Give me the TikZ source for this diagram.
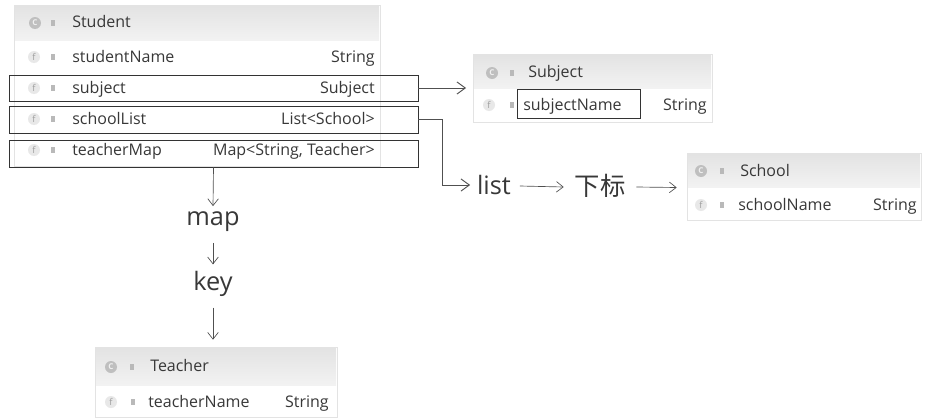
\documentclass[tikz,border=0pt]{standalone}
\usepackage{fontspec}
\setmainfont{Open Sans}
\newfontfamily\cjk{Noto Sans CJK SC}
\usetikzlibrary{arrows.meta,positioning,calc,fit}
\definecolor{txt}{HTML}{383838}
\definecolor{lin}{HTML}{505050}
\tikzset{
  panel/.style={draw=gray!22,fill=white,inner sep=0pt},
  hdr/.style={top color=gray!22,bottom color=gray!10},
  frame/.style={draw=black!80,line width=0.65pt,inner sep=0pt},
  cicon/.style={circle,fill=gray!50,inner sep=0pt,minimum size=9pt,font=\fontsize{6}{6}\selectfont\bfseries,text=gray!12},
  ficon/.style={circle,fill=gray!18,inner sep=0pt,minimum size=9pt,font=\fontsize{7}{7}\selectfont,text=gray!75},
  lock/.style={rectangle,fill=gray!55,inner sep=0pt,minimum width=3pt,minimum height=4pt},
  fname/.style={anchor=west,inner sep=0pt,text=txt,text height=1.6ex,text depth=0.45ex,yshift=-1.2pt},
  ftype/.style={anchor=east,inner sep=0pt,text=txt,text height=1.6ex,text depth=0.45ex,yshift=-1.2pt},
  cname/.style={anchor=west,inner sep=0pt,text=txt,text height=1.6ex,text depth=0.45ex,yshift=-1.2pt},
  lbl/.style={font=\fontsize{19}{21}\selectfont,text=txt,inner sep=2pt},
  arr/.style={draw=lin,line width=0.7pt,-{Straight Barb[length=2.2mm,width=3.2mm]}},
  tarr/.style={draw=lin,line width=0.5pt,-{Straight Barb[length=1.8mm,width=2.8mm]}},
}
\begin{document}
\begin{tikzpicture}[x=0.75pt,y=-0.75pt,font=\fontsize{12}{14}\selectfont]
  \useasboundingbox (0,0) rectangle (926,418);
  % Student
  \node[panel,fit={(14,5) (380,166)}] (stud) {};
  \fill[hdr] (15,6) rectangle (379,40);
  \node[cicon] (sc) at (35,23) {C};
  \node[lock] (sk) at (53,23) {};
  \node[cname] (stn) at (72,22) {Student};
  \foreach \yy/\nm/\ty [count=\i] in {57/studentName/String,88/subject/Subject,
      119/schoolList/List<School>,150/teacherMap/{Map<String, Teacher>}} {
    \node[ficon] (sf\i) at (34,\yy) {f};
    \node[lock] (sl\i) at (53,\yy) {};
    \node[fname] (sn\i) at (72,\yy) {\nm};
    \node[ftype] (st\i) at (375,\yy) {\ty};
  }
  \node[frame,fit={(9,75) (418,101)}] (subjbox) {};
  \node[frame,fit={(9,106) (418,133)}] (listbox) {};
  \node[frame,fit={(9,140) (418,167)}] (mapbox) {};
  % Subject
  \node[panel,fit={(473,54) (712,122)}] (subj) {};
  \fill[hdr] (474,55) rectangle (711,88);
  \node[cicon] (jc) at (492,73) {C};
  \node[lock] (jk) at (512,73) {};
  \node[cname] (jtn) at (528,72) {Subject};
  \node[ficon] (jf) at (489,105) {f};
  \node[lock] (jl) at (512,105) {};
  \node[fname] (jn) at (523,105) {subjectName};
  \node[ftype] (jt) at (707,105) {String};
  \node[frame,fit={(517,89) (640,118)}] (jnbox) {};
  % School
  \node[panel,fit={(687,153) (921,220)}] (scho) {};
  \fill[hdr] (688,154) rectangle (920,187);
  \node[cicon] (hc) at (701,171) {C};
  \node[lock] (hk) at (722,171) {};
  \node[cname] (htn) at (740,171) {School};
  \node[ficon] (hf) at (701,205) {f};
  \node[lock] (hl) at (722,205) {};
  \node[fname] (hn) at (738,205) {schoolName};
  \node[ftype] (ht) at (917,205) {String};
  % Teacher
  \node[panel,fit={(95,347) (337,417)}] (teach) {};
  \fill[hdr] (96,348) rectangle (336,385);
  \node[cicon] (tc) at (111,367) {C};
  \node[lock] (tk) at (132,367) {};
  \node[cname] (ttn) at (150,366) {Teacher};
  \node[ficon] (tf) at (111,402) {f};
  \node[lock] (tl) at (133,402) {};
  \node[fname] (tn) at (148,402) {teacherName};
  \node[ftype] (tt) at (329,402) {String};
  % labels
  \node[lbl] (maplbl) at (213,222) {map};
  \node[lbl] (keylbl) at (213,284) {key};
  \node[lbl] (listlbl) at (494,185) {list};
  \node[lbl] (idxlbl) at (600,186) {\cjk 下标};
  % connectors
  \draw[arr,shorten >=5pt] (subjbox.east) -- (subjbox.east -| subj.west);
  \draw[arr,shorten >=3pt] (listbox.east) -- ++(24,0) |- (listlbl.west);
  \draw[tarr] (listlbl.east) ++(6,1) -- ($(idxlbl.west)+(-8,1)$);
  \draw[tarr] (idxlbl.east) ++(8,1) -- ($(scho.west)+(-10,1)$);
  \draw[tarr] (mapbox.south) -- ($(maplbl.north)+(0,-3)$);
  \draw[tarr] ($(maplbl.south)+(0,8)$) -- ($(keylbl.north)+(0,-4)$);
  \draw[tarr] ($(keylbl.south)+(0,8)$) -- ($(teach.north)+(-3,-7)$);
\end{tikzpicture}
\end{document}
